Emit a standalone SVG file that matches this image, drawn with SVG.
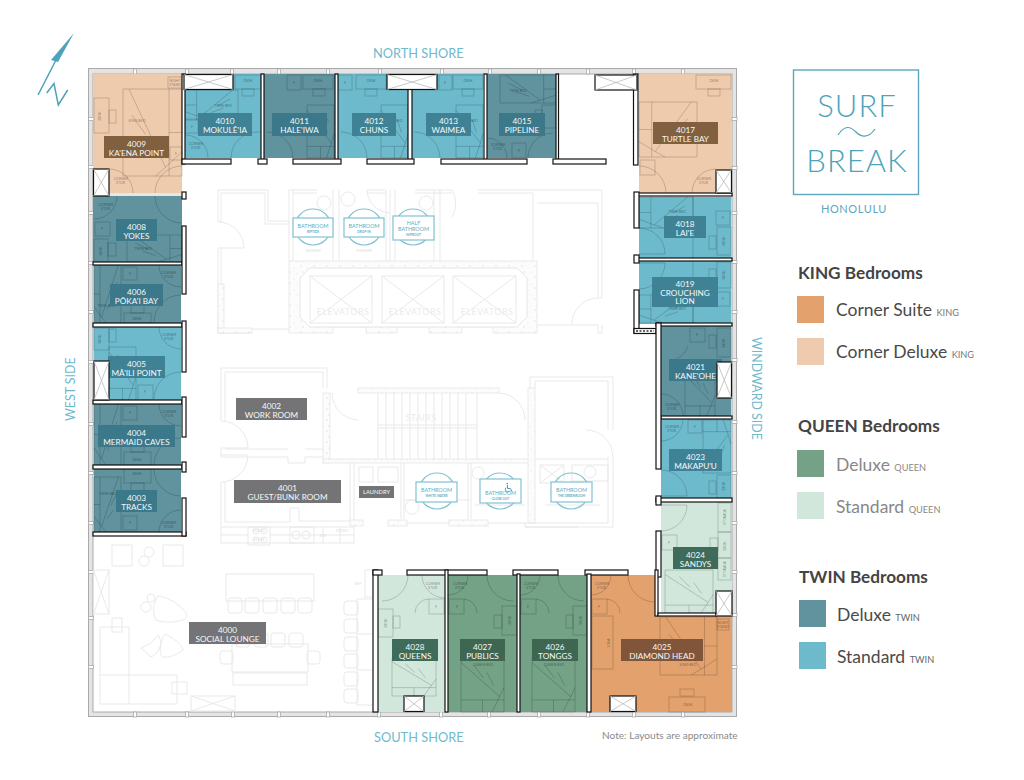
<svg xmlns="http://www.w3.org/2000/svg" width="1024" height="780" viewBox="0 0 1024 780">
<style>
text{font-family:Lato,"Noto Sans","Liberation Sans",sans-serif}
.g{fill:none;stroke:#e6e6e6;stroke-width:.9}
.gt{fill:#ebebeb;font-size:9px;text-anchor:middle;letter-spacing:.4px}
.gs{fill:#dcdcdc;font-size:3.6px;text-anchor:middle}
.cn{fill:url(#speck);stroke:#e6e6e6;stroke-width:.8}
.f{fill:none;stroke:#000;stroke-opacity:.22;stroke-width:.8}
.t{fill:#000;fill-opacity:.42;font-size:3.6px;text-anchor:middle}
.l{fill:#f6f9f9;font-size:8.2px;text-anchor:middle}
.w{fill:#fff;stroke:#111;stroke-width:1.2}
.s{fill:#fff;stroke:#111;stroke-width:1.2}
.x{stroke:#bbb;stroke-width:.8;fill:none}
.m{fill:#fff;stroke:#aaa;stroke-width:.8}
.bs{fill:#fff;stroke:#82c2d2;stroke-width:1.2}
.bc{fill:none;stroke:#82c2d2;stroke-width:1.2}
.bt{fill:#59afc4;font-size:5.4px;text-anchor:middle}
.bu{fill:#59afc4;font-size:3.2px;text-anchor:middle;font-weight:700}
.side{fill:#6fb9cc;font-size:12.8px}
.sv{fill:#6fb9cc;font-size:12.4px}
.h{fill:#444;font-size:17.2px;font-weight:700}
.i{fill:#4a4a4a;font-size:17.5px}
.i2{fill:#888;font-size:17.5px}
.sm{font-size:9.2px}
.st{fill:#d2e7dc}.dq{fill:#74a286}.sk{fill:#e3a26d}.dk{fill:#efcbad}.dt{fill:#61939f}.tt{fill:#6ebacd}
.lt{fill:#3f8296}.ld{fill:#3b7889}.lk{fill:#80603f}.ls{fill:#80553a}.lq{fill:#3e6651}.ln{fill:#3f6c5a}.lg{fill:#747476}
</style>
<defs>
<pattern id="speck" width="13" height="11" patternUnits="userSpaceOnUse">
<rect width="13" height="11" fill="#fcfcfc"/>
<circle cx="2" cy="2" r=".4" fill="#999"/><circle cx="8" cy="4" r=".35" fill="#aaa"/><circle cx="4" cy="8" r=".4" fill="#999"/><circle cx="11" cy="9" r=".3" fill="#aaa"/>
</pattern>
<g id="bed" class="f"><rect width="100" height="100" vector-effect="non-scaling-stroke"/><path vector-effect="non-scaling-stroke" d="M0 78H100M50 78V100M0 10L90 72L72 100M30 15L52 38M60 28L76 52M90 72L100 55"/></g>
</defs>

<g id="north-arrow"><path d="M74 33L51 60L58 62Z" fill="#4da3b9"/><path d="M56 60L38 95M46.700 93L54 83.500L58.300 105L67.700 90" fill="none" stroke="#4da3b9" stroke-width="1.500"/></g>
<text class="side" x="373" y="58">NORTH SHORE</text>
<text class="side" x="374" y="742">SOUTH SHORE</text>
<text class="sv" transform="translate(75 421) rotate(-90)">WEST SIDE</text>
<text class="sv" transform="translate(752 337) rotate(90)">WINDWARD SIDE</text>
<text x="602" y="739" fill="#8a8a8a" font-size="10.100">Note: Layouts are approximate</text>

<g id="building"><rect x="88.500" y="68.500" width="648" height="648" fill="#e4e4e4" stroke="#aaa"/><rect x="93" y="74" width="639" height="638" fill="#fff" stroke="#aaa"/>
<g class="m"><rect x="133.500" y="69" width="3" height="5"/><rect x="185.500" y="69" width="3" height="5"/><rect x="230.500" y="69" width="3" height="5"/><rect x="277.500" y="69" width="3" height="5"/><rect x="326.500" y="69" width="3" height="5"/><rect x="378.500" y="69" width="3" height="5"/><rect x="440.500" y="69" width="3" height="5"/><rect x="488.500" y="69" width="3" height="5"/><rect x="537.500" y="69" width="3" height="5"/><rect x="586.500" y="69" width="3" height="5"/><rect x="632.500" y="69" width="3" height="5"/><rect x="681.500" y="69" width="3" height="5"/>
<rect x="133.500" y="712" width="3" height="5"/><rect x="185.500" y="712" width="3" height="5"/><rect x="231.500" y="712" width="3" height="5"/><rect x="277.500" y="712" width="3" height="5"/><rect x="326.500" y="712" width="3" height="5"/><rect x="377.500" y="712" width="3" height="5"/><rect x="439.500" y="712" width="3" height="5"/><rect x="487.500" y="712" width="3" height="5"/><rect x="537.500" y="712" width="3" height="5"/><rect x="586.500" y="712" width="3" height="5"/><rect x="632.500" y="712" width="3" height="5"/><rect x="681.500" y="712" width="3" height="5"/>
<rect x="88.500" y="117.500" width="5" height="3"/><rect x="88.500" y="165.500" width="5" height="3"/><rect x="88.500" y="211.500" width="5" height="3"/><rect x="88.500" y="261.500" width="5" height="3"/><rect x="88.500" y="310.500" width="5" height="3"/><rect x="88.500" y="360.500" width="5" height="3"/><rect x="88.500" y="422.500" width="5" height="3"/><rect x="88.500" y="471.500" width="5" height="3"/><rect x="88.500" y="521.500" width="5" height="3"/><rect x="88.500" y="570.500" width="5" height="3"/><rect x="88.500" y="616.500" width="5" height="3"/><rect x="88.500" y="665.500" width="5" height="3"/>
<rect x="732" y="117.500" width="5" height="3"/><rect x="732" y="166.500" width="5" height="3"/><rect x="732" y="211.500" width="5" height="3"/><rect x="732" y="260.500" width="5" height="3"/><rect x="732" y="310.500" width="5" height="3"/><rect x="732" y="358.500" width="5" height="3"/><rect x="732" y="420.500" width="5" height="3"/><rect x="732" y="471.500" width="5" height="3"/><rect x="732" y="521.500" width="5" height="3"/><rect x="732" y="570.500" width="5" height="3"/><rect x="732" y="613.500" width="5" height="3"/><rect x="732" y="665.500" width="5" height="3"/></g></g>

<g id="core">
<path class="g" d="M218 222V190H268V221H289M221 222V193H265V224H289M218 248V333H252M221 248V333M252 329H289M289 190V261M293 190V261M289 190H317M293 193H317M367 190H385M367 193H385M415 190H452M415 193H452M333 190V261M339 190V261M386 190V261M390 190V261M395 190V261M434 190V261M440 190V261M478 190H602V298M478 193H533V261M537 203H598V298M598 298H602M537 325H598V333H602V325M218 222A26 26 0 0 1 244 248H218M367 190A24 24 0 0 0 390 213M452 190A26 26 0 0 1 452 217M598 298A26 26 0 0 0 572 325"/>
<path class="cn" d="M289 261H537V333H493V327H462V333H429V327H397V333H366V327H333V333H289Z"/>
<path d="M310 268H517L527 278V317L517 327H310L300 317V278Z" fill="#fff" stroke="#e6e6e6"/>
<rect class="cn" x="218" y="284" width="6" height="49"/><rect class="cn" x="218" y="328" width="34" height="5"/>
<g class="g"><rect x="310" y="276" width="62" height="47"/><path d="M310 276L372 323M372 276L310 323"/><rect x="382" y="276" width="62" height="47"/><path d="M382 276L444 323M444 276L382 323"/><rect x="453" y="276" width="63" height="47"/><path d="M453 276L516 323M516 276L453 323"/></g>
<text class="gt" x="343" y="315">ELEVATORS</text><text class="gt" x="415" y="315">ELEVATORS</text><text class="gt" x="487" y="315">ELEVATORS</text>
<g class="g"><circle cx="324" cy="203" r="7"/><circle cx="348" cy="199" r="7"/><circle cx="426" cy="203" r="7"/></g>
<text class="gs" x="313" y="252">SHOWER</text><text class="gs" x="364" y="252">SHOWER</text>

<path class="g" d="M221 421V368H327V388M225 421V372H323V388M221 421A27 27 0 0 1 248 448H221V457H288V463H305V457H323M225 449H288M305 449H323M221 482V526M225 482V522H290V508H299V521H350M221 482A27 27 0 0 0 248 455H221M350 463V520M354 463V520M332 393A27 27 0 0 0 358 420M525 420A27 27 0 0 0 499 393"/>
<rect class="cn" x="323" y="393" width="7" height="70"/><rect class="cn" x="358" y="388" width="141" height="5"/><rect class="cn" x="323" y="459" width="209" height="4"/><rect class="cn" x="528" y="388" width="7" height="135"/>
<path class="g" d="M378 393V459M386 393V459M394 393V459M402 393V459M410 393V459M418 393V459M426 393V459M434 393V459M442 393V459M450 393V459M458 393V459M466 393V459M477 393V459M378 425H477M378 428H477"/>
<text class="gt" x="421" y="421">STAIRS</text>
<path class="g" d="M530 388V377H613V430M535 388V381H608V430M613 457A27 27 0 0 0 586 430M613 457V527H525V523H608V457M535 459H608M401 463V519M404 463V519M468 463V519M471 463V519M407 523H449M488 523H525M578 527H525"/>
<rect class="cn" x="350" y="520" width="13" height="6"/><rect class="cn" x="388" y="520" width="19" height="6"/><rect class="cn" x="449" y="520" width="39" height="6"/>
<g class="g"><rect x="359" y="467" width="14" height="15"/><rect x="378" y="467" width="20" height="15"/><circle cx="412" cy="507" r="7"/><circle cx="478" cy="473" r="6"/><circle cx="590" cy="472" r="6"/><rect x="540" y="465" width="24" height="18"/><rect x="572" y="465" width="36" height="16"/><path d="M540 465L564 483M564 465L540 483"/><path d="M404 500H470M475 505H525M545 505H600"/></g>

<g class="g"><rect x="221" y="527" width="133" height="16"/><path d="M221 535H248M270 535H354M323 527V543M340 527V543"/><rect x="248" y="527" width="22" height="18"/><circle cx="256" cy="531" r="3"/><circle cx="264" cy="531" r="3"/><circle cx="256" cy="540" r="3"/><circle cx="264" cy="540" r="3"/><rect x="290" y="527" width="24" height="16"/><circle cx="296" cy="535" r="4"/><circle cx="306" cy="535" r="4"/></g>
<text class="gs" x="259" y="532">MICRO</text><text class="gs" x="259" y="541">STOVE</text><text class="gs" x="323" y="537">DW</text><text class="gs" x="342" y="532">MICRO</text>

<g class="g"><rect x="112" y="545" width="20" height="21"/><circle cx="149" cy="552" r="5"/><circle cx="144" cy="561" r="5"/><rect x="163" y="545" width="20" height="21"/>
<rect x="93.500" y="570" width="15.500" height="44"/><path d="M93.500 570L109 614M109 570L93.500 614"/><rect x="191" y="696" width="44" height="15"/><path d="M191 696L235 711M235 696L191 711"/>
<path d="M100 627H129V675H177V704H100ZM100 675H129V704"/><rect x="112" y="618" width="10" height="14"/><rect x="172" y="682" width="15" height="12"/>
<circle cx="151" cy="598" r="4"/><circle cx="146" cy="607" r="5"/><path d="M158 596C170 597 187 610 187 616C186 622 165 624 156 620C152 612 153 603 158 596Z"/><path d="M151 643L158 635L161 641C161 648 156 655 151 657L141 648Z"/><path d="M165 634C172 637 183 645 183 650C178 654 170 658 163 657C158 655 160 640 165 634Z"/>
<rect x="226" y="574" width="88" height="27"/><rect x="228" y="598" width="14" height="15" rx="3"/><rect x="245" y="598" width="14" height="15" rx="3"/><rect x="263" y="598" width="14" height="15" rx="3"/><rect x="281" y="598" width="14" height="15" rx="3"/><rect x="298" y="598" width="14" height="15" rx="3"/>
<rect x="232" y="644" width="76" height="28"/><rect x="236" y="633" width="14" height="14" rx="3"/><rect x="254" y="633" width="14" height="14" rx="3"/><rect x="271" y="633" width="14" height="14" rx="3"/><rect x="289" y="633" width="14" height="14" rx="3"/><rect x="220" y="651" width="13" height="13" rx="3"/><rect x="307" y="651" width="13" height="13" rx="3"/><rect x="233" y="673" width="74" height="12"/>
<rect x="344" y="601" width="14" height="14" rx="3"/><rect x="344" y="619" width="14" height="14" rx="3"/><rect x="344" y="637" width="14" height="14" rx="3"/><rect x="344" y="654" width="14" height="14" rx="3"/><rect x="344" y="672" width="14" height="14" rx="3"/><rect x="344" y="689" width="14" height="14" rx="3"/>
<path d="M373 599H357V705H373M357 634H373M357 670H373"/><rect x="365" y="570" width="8" height="27"/></g>
<text class="gs" x="358" y="585">REF</text>
</g>

<g id="bath-riptide"><circle class="bc" cx="313" cy="227" r="18"/><rect class="bs" x="293" y="218" width="40" height="19"/><text class="bt" x="313" y="227.500">BATHROOM</text><text class="bu" x="313" y="232.500">RIPTIDE</text></g>
<g id="bath-dropin"><circle class="bc" cx="364" cy="227" r="18"/><rect class="bs" x="344" y="218" width="40" height="19"/><text class="bt" x="364" y="227.500">BATHROOM</text><text class="bu" x="364" y="232.500">DROP-IN</text></g>
<g id="bath-wipeout"><circle class="bc" cx="413" cy="227" r="18"/><rect class="bs" x="393" y="216" width="41" height="24"/><text class="bt" x="413.500" y="225">HALF</text><text class="bt" x="413.500" y="230.500">BATHROOM</text><text class="bu" x="413.500" y="235.500">WIPEOUT</text></g>
<g id="bath-whitewater"><circle class="bc" cx="437" cy="491" r="18"/><rect class="bs" x="416" y="482" width="41" height="20"/><text class="bt" x="436.500" y="491.500">BATHROOM</text><text class="bu" x="436.500" y="497">WHITE WATER</text></g>
<g id="bath-closeout"><circle class="bc" cx="500" cy="491" r="18"/><rect class="bs" x="480" y="479" width="41" height="24"/><text class="bt" x="500.500" y="494.500">BATHROOM</text><text class="bu" x="500.500" y="500">CLOSE OUT</text><path d="M507.500 485V488.500H510.500L512 491.500M506.500 487.200A2.500 2.500 0 1 0 510 490.500" fill="none" stroke="#3f9ab2" stroke-width=".9"/><circle cx="507.300" cy="483.600" r=".8" fill="#3f9ab2"/></g>
<g id="bath-greenroom"><circle class="bc" cx="571" cy="491" r="18"/><rect class="bs" x="551" y="482" width="41" height="20"/><text class="bt" x="571.500" y="491.500">BATHROOM</text><text class="bu" x="571.500" y="497">THE GREENROOM</text></g>

<g id="room-4000"><rect class="lg" x="189" y="622" width="77" height="22"/><text class="l" x="227.500" y="632.800">4000</text><text class="l" x="227.500" y="641.500">SOCIAL LOUNGE</text></g>
<g id="room-4001"><rect class="lg" x="234" y="480" width="107" height="23"/><text class="l" x="287.500" y="490.800">4001</text><text class="l" x="287.500" y="499.500">GUEST/BUNK ROOM</text></g>
<g id="room-4002"><rect class="lg" x="236" y="398" width="71" height="22"/><text class="l" x="271.500" y="408.800">4002</text><text class="l" x="271.500" y="417.500">WORK ROOM</text></g>
<g id="laundry"><rect class="lg" x="359" y="486" width="35" height="12"/><text class="l" x="376.500" y="494" style="font-size:5.800px">LAUNDRY</text></g>

<g id="room-4009"><rect class="dk" x="93" y="74" width="89" height="119"/>
<rect class="f" x="168" y="77" width="14" height="11"/><use href="#bed" transform="matrix(0 .87 .59 0 123 89)"/><rect class="f" x="94" y="98" width="15" height="35"/><rect class="f" x="109" y="110" width="7" height="13"/><rect class="f" x="170" y="147" width="12" height="13"/>
<path class="f" d="M155 193A27 27 0 0 1 182 166M109 169A24 24 0 0 1 133 193"/>
<text class="t" x="175" y="81.500">NIGHT</text><text class="t" x="175" y="85.500">STAND</text><text class="t" x="137" y="122">KING BED</text><text class="t" transform="translate(101 116) rotate(-90)">DESK</text><text class="t" x="176" y="155">F</text><text class="t" x="121" y="180">CORNER</text><text class="t" x="121" y="184">STOR.</text>
<rect class="lk" x="104" y="136" width="65" height="22"/><text class="l" x="136.500" y="146.800">4009</text><text class="l" x="136.500" y="155.500">KA'ENA POINT</text></g>

<g id="room-4010"><rect class="tt" x="184" y="74" width="77" height="84"/>
<rect class="f" x="235" y="75" width="26" height="14"/><rect class="f" x="242" y="89" width="12" height="7"/><use href="#bed" transform="matrix(0 .3 -.53 0 238 90)"/><rect class="f" x="185" y="119" width="13" height="14"/>
<path class="f" d="M231 158A26 26 0 0 1 257 132H261M185 135A23 23 0 0 1 208 158"/>
<text class="t" x="248" y="82">DESK</text><text class="t" x="223" y="107">TWIN BED</text><text class="t" x="192" y="128">F</text><text class="t" x="196" y="145">CORNER</text><text class="t" x="196" y="149">STOR.</text>
<rect class="lt" x="198" y="113" width="54" height="23"/><text class="l" x="225" y="123.800">4010</text><text class="l" x="225" y="132.500">MOKULĒ'IA</text></g>

<g id="room-4011"><rect class="dt" x="264" y="74" width="71" height="84"/>
<rect class="f" x="287" y="75" width="14" height="15"/><rect class="f" x="303" y="75" width="30" height="14"/><rect class="f" x="313" y="89" width="12" height="7"/><use href="#bed" transform="translate(307 105) scale(.27 .53)"/>
<path class="f" d="M267 132A26 26 0 0 1 293 158"/>
<text class="t" x="318" y="82">DESK</text><text class="t" x="294" y="84">F</text><text class="t" x="320" y="122">TWIN BED</text>
<rect class="ld" x="272" y="113" width="55" height="23"/><text class="l" x="299.500" y="123.800">4011</text><text class="l" x="299.500" y="132.500">HALE'IWA</text></g>

<g id="room-4012"><rect class="tt" x="338" y="74" width="70" height="84"/>
<rect class="f" x="338" y="75" width="14" height="15"/><rect class="f" x="356" y="75" width="30" height="14"/><rect class="f" x="365" y="89" width="12" height="7"/><use href="#bed" transform="translate(381 105) scale(.27 .53)"/>
<path class="f" d="M341 132A26 26 0 0 1 367 158"/>
<text class="t" x="345" y="84">F</text><text class="t" x="371" y="82">DESK</text><text class="t" x="394" y="122">TWIN BED</text>
<rect class="lt" x="352" y="113" width="44" height="23"/><text class="l" x="374" y="123.800">4012</text><text class="l" x="374" y="132.500">CHUNS</text></g>

<g id="room-4013"><rect class="tt" x="412" y="74" width="71" height="84"/>
<rect class="f" x="439" y="75" width="13" height="15"/><rect class="f" x="453" y="75" width="30" height="14"/><rect class="f" x="462" y="89" width="12" height="7"/><use href="#bed" transform="translate(456 105) scale(.27 .53)"/>
<path class="f" d="M414 132A26 26 0 0 1 440 158"/>
<text class="t" x="445" y="84">F</text><text class="t" x="468" y="82">DESK</text><text class="t" x="469" y="122">TWIN BED</text>
<rect class="lt" x="426" y="113" width="45" height="23"/><text class="l" x="448.500" y="123.800">4013</text><text class="l" x="448.500" y="132.500">WAIMEA</text></g>

<g id="room-4015"><rect class="dt" x="487" y="74" width="69" height="84"/>
<use href="#bed" transform="matrix(0 .28 .56 0 500 75)"/><rect class="f" x="542" y="105" width="14" height="23"/><rect class="f" x="535" y="110" width="7" height="13"/><rect class="f" x="512" y="143" width="14" height="15"/>
<path class="f" d="M528 158A25 25 0 0 1 553 133M487 138A20 20 0 0 1 507 158"/>
<text class="t" x="518" y="92">TWIN BED</text><text class="t" x="498" y="146">CORNER</text><text class="t" x="498" y="150">STOR.</text><text class="t" x="519" y="152">F</text>
<rect class="ld" x="499" y="113" width="46" height="23"/><text class="l" x="522" y="123.800">4015</text><text class="l" x="522" y="132.500">PIPELINE</text></g>

<g id="room-4017"><rect class="dk" x="639" y="74" width="92" height="119"/>
<rect class="f" x="696" y="75" width="35" height="14"/><rect class="f" x="708" y="89" width="12" height="7"/><use href="#bed" transform="matrix(0 .55 -.58 0 697 102)"/><rect class="f" x="640" y="160" width="15" height="15"/>
<path class="f" d="M639 166A27 27 0 0 1 666 193M692 193A24 24 0 0 1 716 169"/>
<text class="t" x="714" y="82">DESK</text><text class="t" x="704" y="180">CORNER</text><text class="t" x="704" y="184">STOR.</text>
<rect class="lk" x="653" y="122" width="65" height="22"/><text class="l" x="685.500" y="132.800">4017</text><text class="l" x="685.500" y="141.500">TURTLE BAY</text></g>

<g id="room-4018"><rect class="tt" x="639" y="197" width="92" height="61"/>
<use href="#bed" transform="matrix(0 .31 -.54 0 693 197)"/><rect class="f" x="716" y="211" width="14" height="14"/><rect class="f" x="717" y="227" width="14" height="28"/><rect class="f" x="709" y="236" width="7" height="13"/>
<path class="f" d="M639 228A26 26 0 0 1 665 254H639M693 197V258"/>
<text class="t" x="677" y="213">TWIN BED</text><text class="t" x="723" y="219">F</text><text class="t" transform="translate(725 241) rotate(-90)">DESK</text>
<rect class="lt" x="664" y="216" width="42" height="22"/><text class="l" x="685" y="226.800">4018</text><text class="l" x="685" y="235.500">LAI'E</text></g>

<g id="room-4019"><rect class="tt" x="639" y="261" width="92" height="63"/>
<rect class="f" x="717" y="262" width="14" height="26"/><rect class="f" x="709" y="269" width="7" height="13"/><rect class="f" x="716" y="292" width="14" height="14"/><use href="#bed" transform="matrix(0 .28 -.54 0 693 295)"/>
<path class="f" d="M639 263H665A26 26 0 0 1 639 289M693 261V324"/>
<text class="t" x="677" y="310">TWIN BED</text><text class="t" x="723" y="300">F</text><text class="t" transform="translate(725 275) rotate(-90)">DESK</text>
<rect class="lt" x="652" y="277" width="66" height="30"/><text class="l" x="685" y="286.800">4019</text><text class="l" x="685" y="295.500">CROUCHING</text><text class="l" x="685" y="304">LION</text></g>

<g id="room-4021"><rect class="dt" x="661" y="326" width="70" height="90"/>
<rect class="f" x="690" y="328" width="15" height="14"/><rect class="f" x="717" y="328" width="14" height="29"/><rect class="f" x="709" y="335" width="7" height="13"/><use href="#bed" transform="translate(685 370) scale(.3 .46)"/>
<path class="f" d="M661 394A22 22 0 0 1 683 416M688 346A22 22 0 0 1 670 361"/>
<text class="t" x="697" y="336">F</text><text class="t" transform="translate(725 343) rotate(-90)">DESK</text><text class="t" x="672" y="406">CORNER</text><text class="t" x="672" y="410">STOR.</text>
<rect class="ld" x="669" y="359" width="53" height="22"/><text class="l" x="695.500" y="369.800">4021</text><text class="l" x="695.500" y="378.500">KANE'OHE</text></g>

<g id="room-4023"><rect class="tt" x="661" y="419" width="70" height="79"/>
<rect class="f" x="688" y="420" width="14" height="13"/><use href="#bed" transform="translate(703 473) scale(.28 -.53)"/><rect class="f" x="717" y="475" width="14" height="23"/><rect class="f" x="709" y="481" width="7" height="13"/>
<path class="f" d="M683 419A22 22 0 0 1 661 441M661 470A26 26 0 0 1 687 496H661"/>
<text class="t" x="672" y="428">CORNER</text><text class="t" x="672" y="432">STOR.</text><text class="t" x="695" y="428">F</text><text class="t" transform="translate(725 486) rotate(-90)">DESK</text>
<rect class="lt" x="669" y="449" width="53" height="22"/><text class="l" x="695.500" y="459.800">4023</text><text class="l" x="695.500" y="468.500">MAKAPU'U</text></g>

<g id="room-4024"><rect class="st" x="661" y="502" width="71" height="113"/>
<rect class="f" x="718" y="503" width="13" height="29"/><rect class="f" x="718" y="532" width="13" height="26"/><rect class="f" x="710" y="538" width="8" height="13"/><rect class="f" x="718" y="558" width="13" height="22"/><rect class="f" x="662" y="535" width="15" height="15"/><use href="#bed" transform="translate(665 570) scale(.48 .45)"/>
<path class="f" d="M687 505A26 26 0 0 1 661 531M661 505H687"/>
<text class="t" transform="translate(726 517) rotate(-90)">STORAGE</text><text class="t" transform="translate(726 546) rotate(-90)">DESK</text><text class="t" transform="translate(726 569) rotate(-90)">STORAGE</text><text class="t" x="669" y="544">F</text>
<rect class="ln" x="673" y="547" width="45" height="22"/><text class="l" x="695.500" y="557.800">4024</text><text class="l" x="695.500" y="566.500">SANDYS</text></g>

<g id="room-4025"><path class="sk" d="M591 575H657V616H732V712H591Z"/>
<rect class="f" x="592" y="599" width="15" height="15"/><rect class="f" x="592" y="616" width="21" height="53"/><use href="#bed" transform="matrix(0 .58 .57 0 660 617)"/><rect class="f" x="717" y="619" width="12" height="11"/><rect class="f" x="669" y="697" width="36" height="15"/><rect class="f" x="680" y="689" width="14" height="7"/>
<path class="f" d="M655 602A27 27 0 0 1 628 575M611 575A20 20 0 0 1 591 595M607 599A14 14 0 0 1 620 613"/>
<text class="t" x="602" y="585">CORNER</text><text class="t" x="602" y="589">STOR.</text><text class="t" x="599" y="608">F</text><text class="t" transform="translate(610 643) rotate(-90)">SOFA</text><text class="t" x="688" y="666">KING BED</text><text class="t" x="723" y="623.500">NIGHT</text><text class="t" x="723" y="627.500">STAND</text><text class="t" x="688" y="706">DESK</text>
<rect class="ls" x="621" y="639" width="82" height="22"/><text class="l" x="662" y="649.800">4025</text><text class="l" x="662" y="658.500">DIAMOND HEAD</text></g>

<g id="room-4026"><rect class="dq" x="520" y="575" width="67" height="137"/>
<rect class="f" x="521" y="599" width="15" height="15"/><rect class="f" x="573" y="606" width="14" height="29"/><rect class="f" x="566" y="615" width="7" height="13"/><use href="#bed" transform="translate(532 657) scale(.43 .55)"/>
<path class="f" d="M540 575A20 20 0 0 1 520 595M584 601A26 26 0 0 1 558 575M536 599A14 14 0 0 1 549 613"/>
<text class="t" x="531" y="585">CORNER</text><text class="t" x="531" y="589">STOR.</text><text class="t" x="528" y="608">F</text><text class="t" transform="translate(582 620) rotate(-90)">DESK</text><text class="t" x="554" y="666">QUEEN BED</text>
<rect class="lq" x="532" y="639" width="46" height="22"/><text class="l" x="555" y="649.800">4026</text><text class="l" x="555" y="658.500">TONGGS</text></g>

<g id="room-4027"><rect class="dq" x="448" y="575" width="69" height="137"/>
<rect class="f" x="449" y="599" width="15" height="15"/><rect class="f" x="502" y="606" width="15" height="29"/><rect class="f" x="494" y="615" width="8" height="13"/><use href="#bed" transform="translate(461 657) scale(.43 .55)"/>
<path class="f" d="M468 575A20 20 0 0 1 448 595M513 601A26 26 0 0 1 487 575M464 599A14 14 0 0 1 477 613"/>
<text class="t" x="460" y="585">CORNER</text><text class="t" x="460" y="589">STOR.</text><text class="t" x="457" y="608">F</text><text class="t" transform="translate(511 620) rotate(-90)">DESK</text><text class="t" x="483" y="666">QUEEN BED</text>
<rect class="lq" x="460" y="639" width="45" height="22"/><text class="l" x="482.500" y="649.800">4027</text><text class="l" x="482.500" y="658.500">PUBLICS</text></g>

<g id="room-4028"><rect class="st" x="378" y="575" width="67" height="137"/>
<rect class="f" x="429" y="599" width="15" height="15"/><rect class="f" x="378" y="609" width="15" height="28"/><rect class="f" x="393" y="616" width="7" height="12"/><use href="#bed" transform="translate(392 658) scale(.44 .38)"/>
<path class="f" d="M445 598A23 23 0 0 1 422 575M408 575A26 26 0 0 1 382 601M429 599A14 14 0 0 0 415 613"/>
<text class="t" x="433" y="585">CORNER</text><text class="t" x="433" y="589">STOR.</text><text class="t" x="436" y="608">F</text><text class="t" transform="translate(387 623) rotate(-90)">DESK</text>
<rect class="ln" x="392" y="639" width="46" height="22"/><text class="l" x="415" y="649.800">4028</text><text class="l" x="415" y="658.500">QUEENS</text></g>

<g id="room-4008"><rect class="dt" x="93" y="196" width="89" height="66"/>
<rect class="f" x="95" y="222" width="15" height="14"/><rect class="f" x="94" y="239" width="14" height="23"/><rect class="f" x="108" y="243" width="8" height="13"/><use href="#bed" transform="matrix(0 .27 .55 0 127 235)"/>
<path class="f" d="M117 196A23 23 0 0 1 94 219M182 223A27 27 0 0 1 155 196"/>
<text class="t" x="106" y="206">CORNER</text><text class="t" x="106" y="210">STOR.</text><text class="t" x="102" y="230">F</text><text class="t" transform="translate(102 251) rotate(-90)">DESK</text><text class="t" x="143" y="250">TWIN BED</text>
<rect class="ld" x="116" y="219" width="41" height="22"/><text class="l" x="136.500" y="229.800">4008</text><text class="l" x="136.500" y="238.500">YOKES</text></g>

<g id="room-4006"><rect class="dt" x="94" y="265" width="87" height="58"/>
<rect class="f" x="123" y="267" width="14" height="13"/><use href="#bed" transform="matrix(0 .58 -.27 0 121 265)"/><rect class="f" x="124" y="313" width="27" height="10"/><rect class="f" x="131" y="305" width="13" height="8"/>
<path class="f" d="M181 287A22 22 0 0 1 159 265M154 322A27 27 0 0 1 181 295"/>
<text class="t" x="130" y="275">F</text><text class="t" x="169" y="274">CORNER</text><text class="t" x="169" y="278">STOR.</text><text class="t" x="137" y="320">DESK</text><text class="t" x="106" y="307">TWIN BED</text>
<rect class="ld" x="110" y="284" width="53" height="22"/><text class="l" x="136.500" y="294.800">4006</text><text class="l" x="136.500" y="303.500">PŌKA'I BAY</text></g>

<g id="room-4005"><rect class="tt" x="94" y="327" width="87" height="73"/>
<rect class="f" x="94" y="328" width="15" height="22"/><rect class="f" x="109" y="329" width="7" height="13"/><use href="#bed" transform="translate(109 347) scale(.27 .53)"/><rect class="f" x="138" y="385" width="15" height="15"/>
<path class="f" d="M181 349A22 22 0 0 1 159 327M154 399A27 27 0 0 1 181 372"/>
<text class="t" transform="translate(101 339) rotate(-90)">DESK</text><text class="t" x="169" y="336">CORNER</text><text class="t" x="169" y="340">STOR.</text><text class="t" x="145" y="393">F</text>
<rect class="lt" x="108" y="356" width="57" height="22"/><text class="l" x="136.500" y="366.800">4005</text><text class="l" x="136.500" y="375.500">MĀ'ILI POINT</text></g>

<g id="room-4004"><rect class="dt" x="94" y="404" width="87" height="61"/>
<rect class="f" x="123" y="406" width="14" height="14"/><use href="#bed" transform="matrix(0 .61 -.27 0 121 404)"/><rect class="f" x="124" y="452" width="27" height="13"/><rect class="f" x="131" y="444" width="13" height="8"/>
<path class="f" d="M181 426A22 22 0 0 1 159 404M154 465A27 27 0 0 1 181 438"/>
<text class="t" x="130" y="414">F</text><text class="t" x="169" y="413">CORNER</text><text class="t" x="169" y="417">STOR.</text><text class="t" x="137" y="461">DESK</text>
<rect class="ld" x="98" y="425" width="77" height="22"/><text class="l" x="136.500" y="435.800">4004</text><text class="l" x="136.500" y="444.500">MERMAID CAVES</text></g>

<g id="room-4003"><rect class="dt" x="94" y="469" width="87" height="63"/>
<rect class="f" x="124" y="469" width="27" height="14"/><rect class="f" x="131" y="483" width="13" height="8"/><use href="#bed" transform="matrix(0 .55 -.27 0 121 477)"/><rect class="f" x="123" y="516" width="14" height="14"/>
<path class="f" d="M181 496A27 27 0 0 1 154 469M159 532A22 22 0 0 1 181 510"/>
<text class="t" x="137" y="475">DESK</text><text class="t" x="108" y="495">TWIN BED</text><text class="t" x="130" y="524">F</text><text class="t" x="169" y="524">CORNER</text><text class="t" x="169" y="528">STOR.</text>
<rect class="ld" x="116" y="490" width="41" height="22"/><text class="l" x="136.500" y="500.800">4003</text><text class="l" x="136.500" y="509.500">TRACKS</text></g>

<g id="walls">
<rect class="w" x="182" y="74" width="3" height="90"/><rect class="w" x="182" y="159" width="49" height="5"/>
<rect class="w" x="261" y="74" width="3" height="88"/><rect class="w" x="258" y="159" width="9" height="5"/>
<rect class="w" x="335" y="74" width="3" height="88"/><rect class="w" x="293" y="159" width="48" height="5"/>
<rect class="w" x="408" y="89" width="4" height="72"/><rect class="w" x="367" y="159" width="47" height="5"/>
<rect class="w" x="484" y="74" width="3" height="88"/><rect class="w" x="441" y="159" width="86" height="5"/>
<rect class="w" x="556" y="74" width="2.500" height="88"/><rect class="w" x="553" y="159" width="53" height="5"/>
<rect class="w" x="633.500" y="74" width="4.500" height="91"/>
<rect x="109" y="193" width="73" height="3" fill="#e6e6e6"/><rect class="w" x="93" y="262" width="89" height="3"/><rect class="w" x="93" y="323" width="89" height="4"/><rect class="w" x="93" y="400" width="89" height="4"/><rect class="w" x="93" y="465" width="89" height="4"/><rect class="w" x="93" y="532" width="93" height="4"/>
<rect class="w" x="182" y="192" width="4" height="7"/><rect class="w" x="182" y="226" width="4" height="68"/><rect class="w" x="182" y="321" width="4" height="51"/><rect class="w" x="182" y="397" width="4" height="40"/><rect class="w" x="182" y="462" width="4" height="10"/><rect class="w" x="182" y="498" width="4" height="38"/>
<rect class="w" x="638" y="193" width="94" height="3"/><rect class="w" x="638" y="258" width="94" height="3"/><rect class="w" x="656" y="323" width="76" height="3"/><rect class="w" x="661" y="416" width="71" height="3"/><rect class="w" x="656" y="498" width="76" height="4"/>
<rect class="w" x="634" y="192" width="5" height="36"/><rect class="w" x="634" y="255" width="5" height="8"/><rect class="w" x="634" y="290" width="5" height="43"/><rect class="w" x="634" y="328.500" width="22" height="5"/><rect class="w" x="656" y="323" width="5" height="146"/><rect class="w" x="656" y="496" width="5" height="9"/><rect class="w" x="656" y="531" width="5" height="46"/>
<path d="M636 331H654" stroke="#333" stroke-width="1.600" stroke-dasharray="2 1.500" fill="none"/>
<rect class="w" x="373" y="570" width="5" height="142"/><rect class="w" x="373" y="570" width="9" height="5"/><rect class="w" x="407" y="570" width="80" height="5"/><rect class="w" x="445" y="570" width="3" height="142"/><rect class="w" x="513" y="570" width="45" height="5"/><rect class="w" x="517" y="574" width="3" height="138"/><rect class="w" x="585" y="570" width="43" height="5"/><rect class="w" x="587" y="574" width="4" height="138"/><rect class="w" x="655" y="570" width="3" height="46"/><rect class="w" x="658" y="613" width="58" height="3"/>
</g>
<g id="shafts">
<rect class="s" x="93.500" y="169" width="15.500" height="27"/><path class="x" d="M93.500 169L109 196M109 169L93.500 196"/>
<rect class="s" x="184" y="74.500" width="49" height="15"/><path class="x" d="M184 74.500L233 89.500M233 74.500L184 89.500"/>
<rect class="s" x="387" y="74.500" width="50" height="15"/><path class="x" d="M387 74.500L437 89.500M437 74.500L387 89.500"/>
<rect class="s" x="595" y="75" width="42" height="15"/><path class="x" d="M595 75L637 90M637 75L595 90"/>
<rect class="s" x="716" y="170" width="15.500" height="23"/><path class="x" d="M716 170L731.500 193M731.500 170L716 193"/>
<rect class="s" x="717" y="362" width="14.500" height="36"/><path class="x" d="M717 362L731.500 398M731.500 362L717 398"/>
<rect class="s" x="716" y="591" width="16" height="25"/><path class="x" d="M716 591L732 616M732 591L716 616"/>
<rect class="s" x="94" y="361" width="15" height="39"/><path class="x" d="M94 361L109 400M109 361L94 400"/>
<rect class="s" x="404" y="696" width="20" height="15.500"/><path class="x" d="M404 696L424 711.500M424 696L404 711.500"/>
<rect class="s" x="610" y="696" width="26" height="15.500"/><path class="x" d="M610 696L636 711.500M636 696L610 711.500"/>
</g>

<g id="logo"><rect x="793.500" y="70" width="125" height="124.500" fill="none" stroke="#5aa8bd" stroke-width="1.400"/>
<text x="857" y="117" text-anchor="middle" fill="#4da3b9" font-size="31" letter-spacing="1" style="font-weight:300">SURF</text>
<path d="M838 135C845 124 851 127 856 132C861 137 868 139 875 129" fill="none" stroke="#4da3b9" stroke-width="1.200"/>
<text x="857" y="172" text-anchor="middle" fill="#4da3b9" font-size="31" letter-spacing="1" style="font-weight:300">BREAK</text>
<text x="854" y="213" text-anchor="middle" fill="#5aa8bd" font-size="11" letter-spacing=".6">HONOLULU</text></g>
<g id="legend">
<text class="h" x="798" y="279">KING Bedrooms</text>
<rect class="sk" x="797" y="296" width="27" height="27"/><text class="i" x="836" y="316">Corner Suite <tspan class="sm" fill="#777">KING</tspan></text>
<rect class="dk" x="797" y="338" width="27" height="27"/><text class="i" x="836" y="358">Corner Deluxe <tspan class="sm" fill="#777">KING</tspan></text>
<text class="h" x="798" y="432">QUEEN Bedrooms</text>
<rect class="dq" x="797" y="450" width="27" height="27"/><text class="i2" x="836" y="471">Deluxe <tspan class="sm">QUEEN</tspan></text>
<rect class="st" x="797" y="492" width="27" height="27"/><text class="i2" x="836" y="513">Standard <tspan class="sm">QUEEN</tspan></text>
<text class="h" x="799" y="583">TWIN Bedrooms</text>
<rect class="dt" x="799" y="600" width="27" height="27"/><text class="i" x="837" y="621">Deluxe <tspan class="sm" fill="#666">TWIN</tspan></text>
<rect class="tt" x="799" y="642" width="27" height="27"/><text class="i" x="837" y="663">Standard <tspan class="sm" fill="#666">TWIN</tspan></text>
</g>
</svg>
